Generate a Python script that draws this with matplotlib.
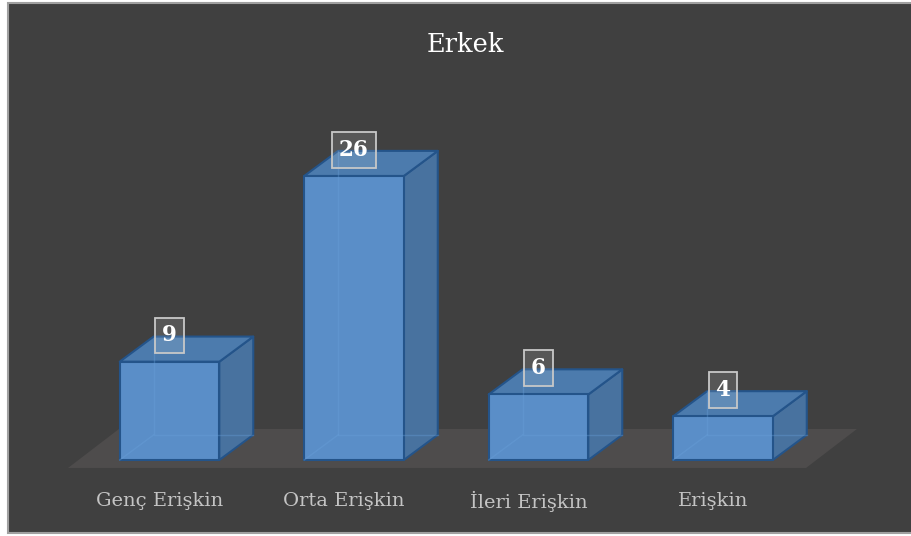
import matplotlib.pyplot as plt
from matplotlib.patches import Polygon, Rectangle

# data
categories = ["Genç Erişkin", "Orta Erişkin", "İleri Erişkin", "Erişkin"]
values = [9, 26, 6, 4]
title = "Erkek"

# colours
bg = "#404040"
floor_c = "#4e4c4c"
front_c = "#5a8ec8"
top_c = "#4c7bad"
side_c = "#48729f"
edge_c = "#24548a"
text_c = "#c4c4c4"

# 3d look (data units)
half_w = 0.27
dx, dy = 0.184, 2.3

fig = plt.figure(figsize=(9.11, 5.36), dpi=100, facecolor="white")
fig.patches.append(Rectangle((8 / 911, 3 / 536), 1, 530 / 536, transform=fig.transFigure,
                             facecolor=bg, edgecolor="#a0a0a0", linewidth=1.5, zorder=-10))

ax = fig.add_axes([0, 0, 1, 1])
ax.set_zorder(1)
ax.set_xlim(-169.5 / 184.5, (911 - 169.5) / 184.5)
ax.set_ylim(-76 / 10.923, (536 - 76) / 10.923)
ax.axis("off")
ax.patch.set_alpha(0)

# floor
n = len(categories)
fx0, fx1 = -0.55, n - 1 + 0.45
fy0, fy1 = -0.73, 2.84
fdx = 0.276
ax.add_patch(Polygon([(fx0, fy0), (fx1, fy0), (fx1 + fdx, fy1), (fx0 + fdx, fy1)],
                     closed=True, facecolor=floor_c, edgecolor="none", zorder=1))

for i, v in enumerate(values):
    l, r = i - half_w, i + half_w
    front = [(l, 0), (r, 0), (r, v), (l, v)]
    top = [(l, v), (r, v), (r + dx, v + dy), (l + dx, v + dy)]
    side = [(r, 0), (r + dx, dy), (r + dx, v + dy), (r, v)]
    for pts, fc in [(side, side_c), (top, top_c), (front, front_c)]:
        ax.add_patch(Polygon(pts, closed=True, facecolor=fc, edgecolor=edge_c,
                             linewidth=1.5, zorder=3, joinstyle="round"))
    # faint hidden edges (bars look translucent)
    ax.plot([l + dx, l + dx, r + dx], [v + dy, dy, dy], color="#6aa2dc", lw=1, alpha=0.35, zorder=4)
    ax.plot([l, l + dx], [0, dy], color="#6aa2dc", lw=1, alpha=0.35, zorder=4)
    ax.text(i, v + 2.4, str(v), ha="center", va="center", color="white",
            fontsize=15.5, fontweight="bold", family="DejaVu Serif", zorder=5,
            bbox=dict(boxstyle="square,pad=0.32", facecolor=(1, 1, 1, 0.12),
                      edgecolor="#c8c8c8", linewidth=1.3))
    ax.text(i - 0.055, -3.75, categories[i], ha="center", va="center", color=text_c,
            fontsize=14, family="DejaVu Serif", zorder=5)

fig.text(465 / 911, 1 - 44 / 536, title, ha="center", va="center", color="white",
         fontsize=18.5, family="DejaVu Serif", zorder=5)

fig.savefig("out.png", dpi=100, facecolor="white")
